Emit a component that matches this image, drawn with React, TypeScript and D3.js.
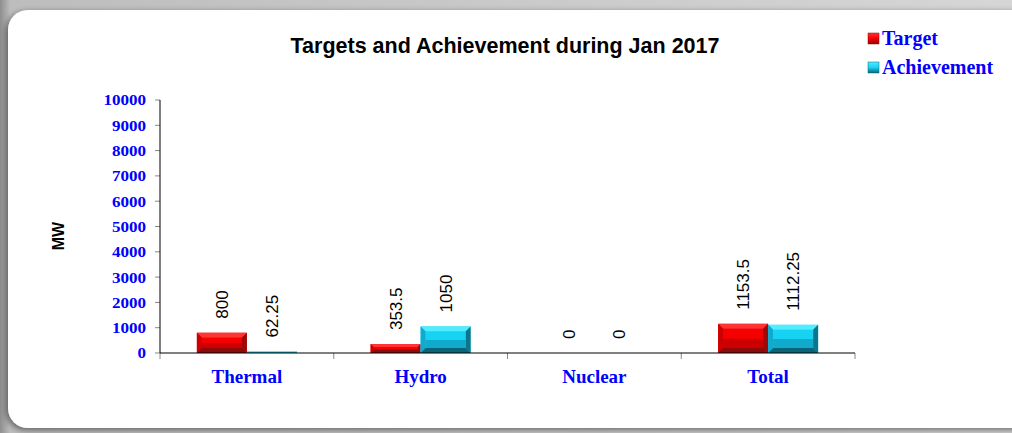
import * as d3 from "d3";

const W = 1012;
const H = 433;
const MARGIN = { top: 100, right: 157, bottom: 80, left: 160 };

const CATEGORIES = ["Thermal", "Hydro", "Nuclear", "Total"];
const TARGET = [800, 353.5, 0, 1153.5];
const ACHIEVEMENT = [62.25, 1050, 0, 1112.25];
const LABELS_TARGET = ["800", "353.5", "0", "1153.5"];
const LABELS_ACH = ["62.25", "1050", "0", "1112.25"];
const Y_TICKS = [0, 1000, 2000, 3000, 4000, 5000, 6000, 7000, 8000, 9000, 10000];

const SERIES = [
  { key: "target", label: "Target", values: TARGET, labels: LABELS_TARGET, light: "#ff3535", mid: "#f40000", shade: "#cc0000", dark: "#8c0a0a" },
  { key: "ach", label: "Achievement", values: ACHIEVEMENT, labels: LABELS_ACH, light: "#50ecff", mid: "#18d2f4", shade: "#10aacc", dark: "#0a6478" },
];

const BLUE = "#0000ff";
const SERIF = "Liberation Serif, Times New Roman, serif";
const SANS = "Liberation Sans, Arial, sans-serif";

function Bar({ x, y, w, h, s }: { x: number; y: number; w: number; h: number; s: (typeof SERIES)[number] }) {
  if (h <= 0) return null;
  const inset = Math.min(5, h / 3, w / 4);
  return (
    <g>
      <rect x={x} y={y} width={w} height={h} fill={s.mid} />
      <polygon
        points={`${x},${y} ${x + w},${y} ${x + w - inset},${y + inset} ${x + inset},${y + inset}`}
        fill={s.light}
      />
      <polygon
        points={`${x},${y} ${x + inset},${y + inset} ${x + inset},${y + h - inset} ${x},${y + h}`}
        fill={s.shade}
      />
      <polygon
        points={`${x},${y + h} ${x + w},${y + h} ${x + w - inset},${y + h - inset} ${x + inset},${y + h - inset}`}
        fill={s.dark}
      />
      <polygon
        points={`${x + w},${y} ${x + w},${y + h} ${x + w - inset},${y + h - inset} ${x + w - inset},${y + inset}`}
        fill={s.dark}
        opacity={0.85}
      />
      <rect x={x + inset} y={y + inset} width={Math.max(0, w - 2 * inset)} height={Math.max(0, h - 2 * inset)} fill={`url(#inner-${s.key})`} />
    </g>
  );
}

export default function App() {
  const x = d3
    .scaleBand<string>()
    .domain(CATEGORIES)
    .range([MARGIN.left, W - MARGIN.right]);
  const y = d3
    .scaleLinear()
    .domain([0, 10000])
    .range([H - MARGIN.bottom, MARGIN.top]);
  const barW = 50;
  const y0 = y(0);

  return (
    <>
      <style>{`body{margin:0}`}</style>
      <svg width={W} height={H} style={{ display: "block" }}>
        <defs>
          <linearGradient id="bg" x1="0" y1="0" x2="1" y2="0">
            <stop offset="0" stopColor="#8e8e8e" />
            <stop offset="0.01" stopColor="#bdbdbd" />
            <stop offset="1" stopColor="#d6d6d6" />
          </linearGradient>
          <filter id="shadow" x="-5%" y="-5%" width="110%" height="110%">
            <feGaussianBlur in="SourceAlpha" stdDeviation="3" />
            <feOffset dx="-2" dy="2" />
            <feComponentTransfer>
              <feFuncA type="linear" slope="0.5" />
            </feComponentTransfer>
            <feMerge>
              <feMergeNode />
              <feMergeNode in="SourceGraphic" />
            </feMerge>
          </filter>
          {SERIES.map((s) => (
            <linearGradient key={s.key} id={`grad-${s.key}`} x1="0" y1="0" x2="0" y2="1">
              <stop offset="0" stopColor={s.light} />
              <stop offset="0.5" stopColor={s.mid} />
              <stop offset="1" stopColor={s.dark} />
            </linearGradient>
          ))}
          {SERIES.map((s) => (
            <linearGradient key={s.key} id={`inner-${s.key}`} x1="0" y1="0" x2="0" y2="1">
              <stop offset="0" stopColor={s.mid} />
              <stop offset="0.5" stopColor={s.mid} />
              <stop offset="0.52" stopColor={s.shade} />
              <stop offset="1" stopColor={s.shade} />
            </linearGradient>
          ))}
        </defs>

        <rect x={0} y={0} width={W} height={H} fill="url(#bg)" />
        <rect x={8} y={10} width={W + 30} height={418} rx={20} fill="#ffffff" filter="url(#shadow)" />

        <text
          x={505}
          y={53}
          textAnchor="middle"
          fontFamily={SANS}
          fontWeight="bold"
          fontSize={21.5}
          fill="#000"
        >
          Targets and Achievement during Jan 2017
        </text>

        {SERIES.map((s, i) => (
          <g key={s.key} transform={`translate(868, ${33 + i * 29})`}>
            <rect x={0} y={0} width={11} height={11} fill={`url(#grad-${s.key})`} stroke={s.dark} strokeWidth={0.5} />
            <text x={14} y={12} fontFamily={SERIF} fontWeight="bold" fontSize={20} fill={BLUE}>
              {s.label}
            </text>
          </g>
        ))}

        <text
          transform={`translate(64, 236) rotate(-90)`}
          textAnchor="middle"
          fontFamily={SANS}
          fontWeight="bold"
          fontSize={16}
          fill="#000"
        >
          MW
        </text>

        {Y_TICKS.map((t) => (
          <g key={t}>
            <line x1={MARGIN.left - 5} x2={MARGIN.left} y1={y(t)} y2={y(t)} stroke="#888" />
            <text
              transform={`translate(${MARGIN.left - 14}, ${y(t)}) scale(1.1, 1)`}
              dy="0.35em"
              textAnchor="end"
              fontFamily={SERIF}
              fontWeight="bold"
              fontSize={15.5}
              fill={BLUE}
            >
              {t}
            </text>
          </g>
        ))}

        {CATEGORIES.map((c, ci) => {
          const cx = (x(c) ?? 0) + x.bandwidth() / 2;
          return (
            <g key={c}>
              {SERIES.map((s, si) => {
                const bx = cx - barW + si * barW;
                const v = s.values[ci];
                const top = y(v);
                return (
                  <g key={s.key}>
                    <Bar x={bx} y={top} w={barW} h={y0 - top} s={s} />
                    <text
                      transform={`translate(${bx + barW / 2 + 6}, ${top - 14}) rotate(-90)`}
                      fontFamily={SANS}
                      fontSize={17}
                      fill="#000"
                    >
                      {s.labels[ci]}
                    </text>
                  </g>
                );
              })}
              <text
                x={cx}
                y={y0 + 30}
                textAnchor="middle"
                fontFamily={SERIF}
                fontWeight="bold"
                fontSize={19}
                fill={BLUE}
              >
                {c}
              </text>
            </g>
          );
        })}

        {[...CATEGORIES.map((c) => x(c) ?? 0), W - MARGIN.right].map((t, i) => (
          <line key={i} x1={t} x2={t} y1={y0} y2={y0 + 6} stroke="#888" />
        ))}
        <line x1={MARGIN.left} x2={MARGIN.left} y1={MARGIN.top} y2={y0} stroke="#000" />
        <line x1={MARGIN.left} x2={W - MARGIN.right} y1={y0} y2={y0} stroke="#000" />
      </svg>
    </>
  );
}
